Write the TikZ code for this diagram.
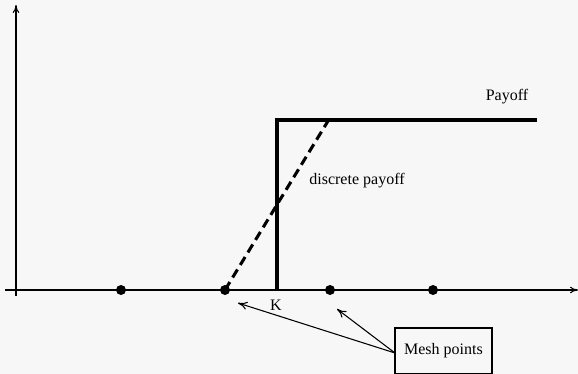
\documentclass[tikz,border=0pt]{standalone}
\usepackage{fontspec}
\setmainfont{Liberation Serif}
\usetikzlibrary{arrows.meta}
\begin{document}
\begin{tikzpicture}[x=0.75pt,y=-0.75pt,
  axis/.style={line width=0.8pt,-{To[length=6pt,width=5pt]}},
  thickline/.style={line width=2.3pt},
  dashline/.style={line width=2.3pt,dash pattern=on 7pt off 4pt},
  meshpt/.style={circle,fill=black,inner sep=0pt,minimum size=7.5pt},
  lbl/.style={font=\fontsize{12pt}{14pt}\selectfont,inner sep=0pt},
  pointer/.style={line width=0.8pt,-{To[length=7pt,width=6pt]}}]
\fill[white!97!black] (0,0) rectangle (578,374);
\useasboundingbox (0,0) rectangle (578,374);
% axes
\coordinate (yb) at (16,296);
\coordinate (yt) at (16,5);
\coordinate (xl) at (5,290);
\coordinate (xr) at (578,290);
\draw[axis] (yb) -- (yt);
\draw[axis] (xl) -- (xr);
% mesh points
\node[meshpt] (m1) at (121,290) {};
\node[meshpt] (m2) at (225,290) {};
\node[meshpt] (m3) at (330,290) {};
\node[meshpt] (m4) at (433,290) {};
% payoff
\coordinate (kb) at (277,290);
\coordinate (kt) at (277,120);
\coordinate (pr) at (537,120);
\draw[thickline] (kb) -- (kt) -- (pr);
\coordinate (dt) at (328,121);
\draw[dashline] (m2.center) -- (dt);
% labels
\node[lbl] (payoff) at (507,97) {Payoff};
\node[lbl] (disc) at (357,181) {discrete payoff};
\node[lbl] (K) at (276,305) {K};
\node[lbl,draw,line width=0.8pt,minimum width=72.75pt,minimum height=34.5pt,inner sep=0pt] (box) at (443.5,351) {Mesh points};
\coordinate (src) at (395,353);
\coordinate (t1) at (238,303);
\coordinate (t2) at (337,309);
\draw[pointer] (src) -- (t1);
\draw[pointer] (src) -- (t2);
\end{tikzpicture}
\end{document}
